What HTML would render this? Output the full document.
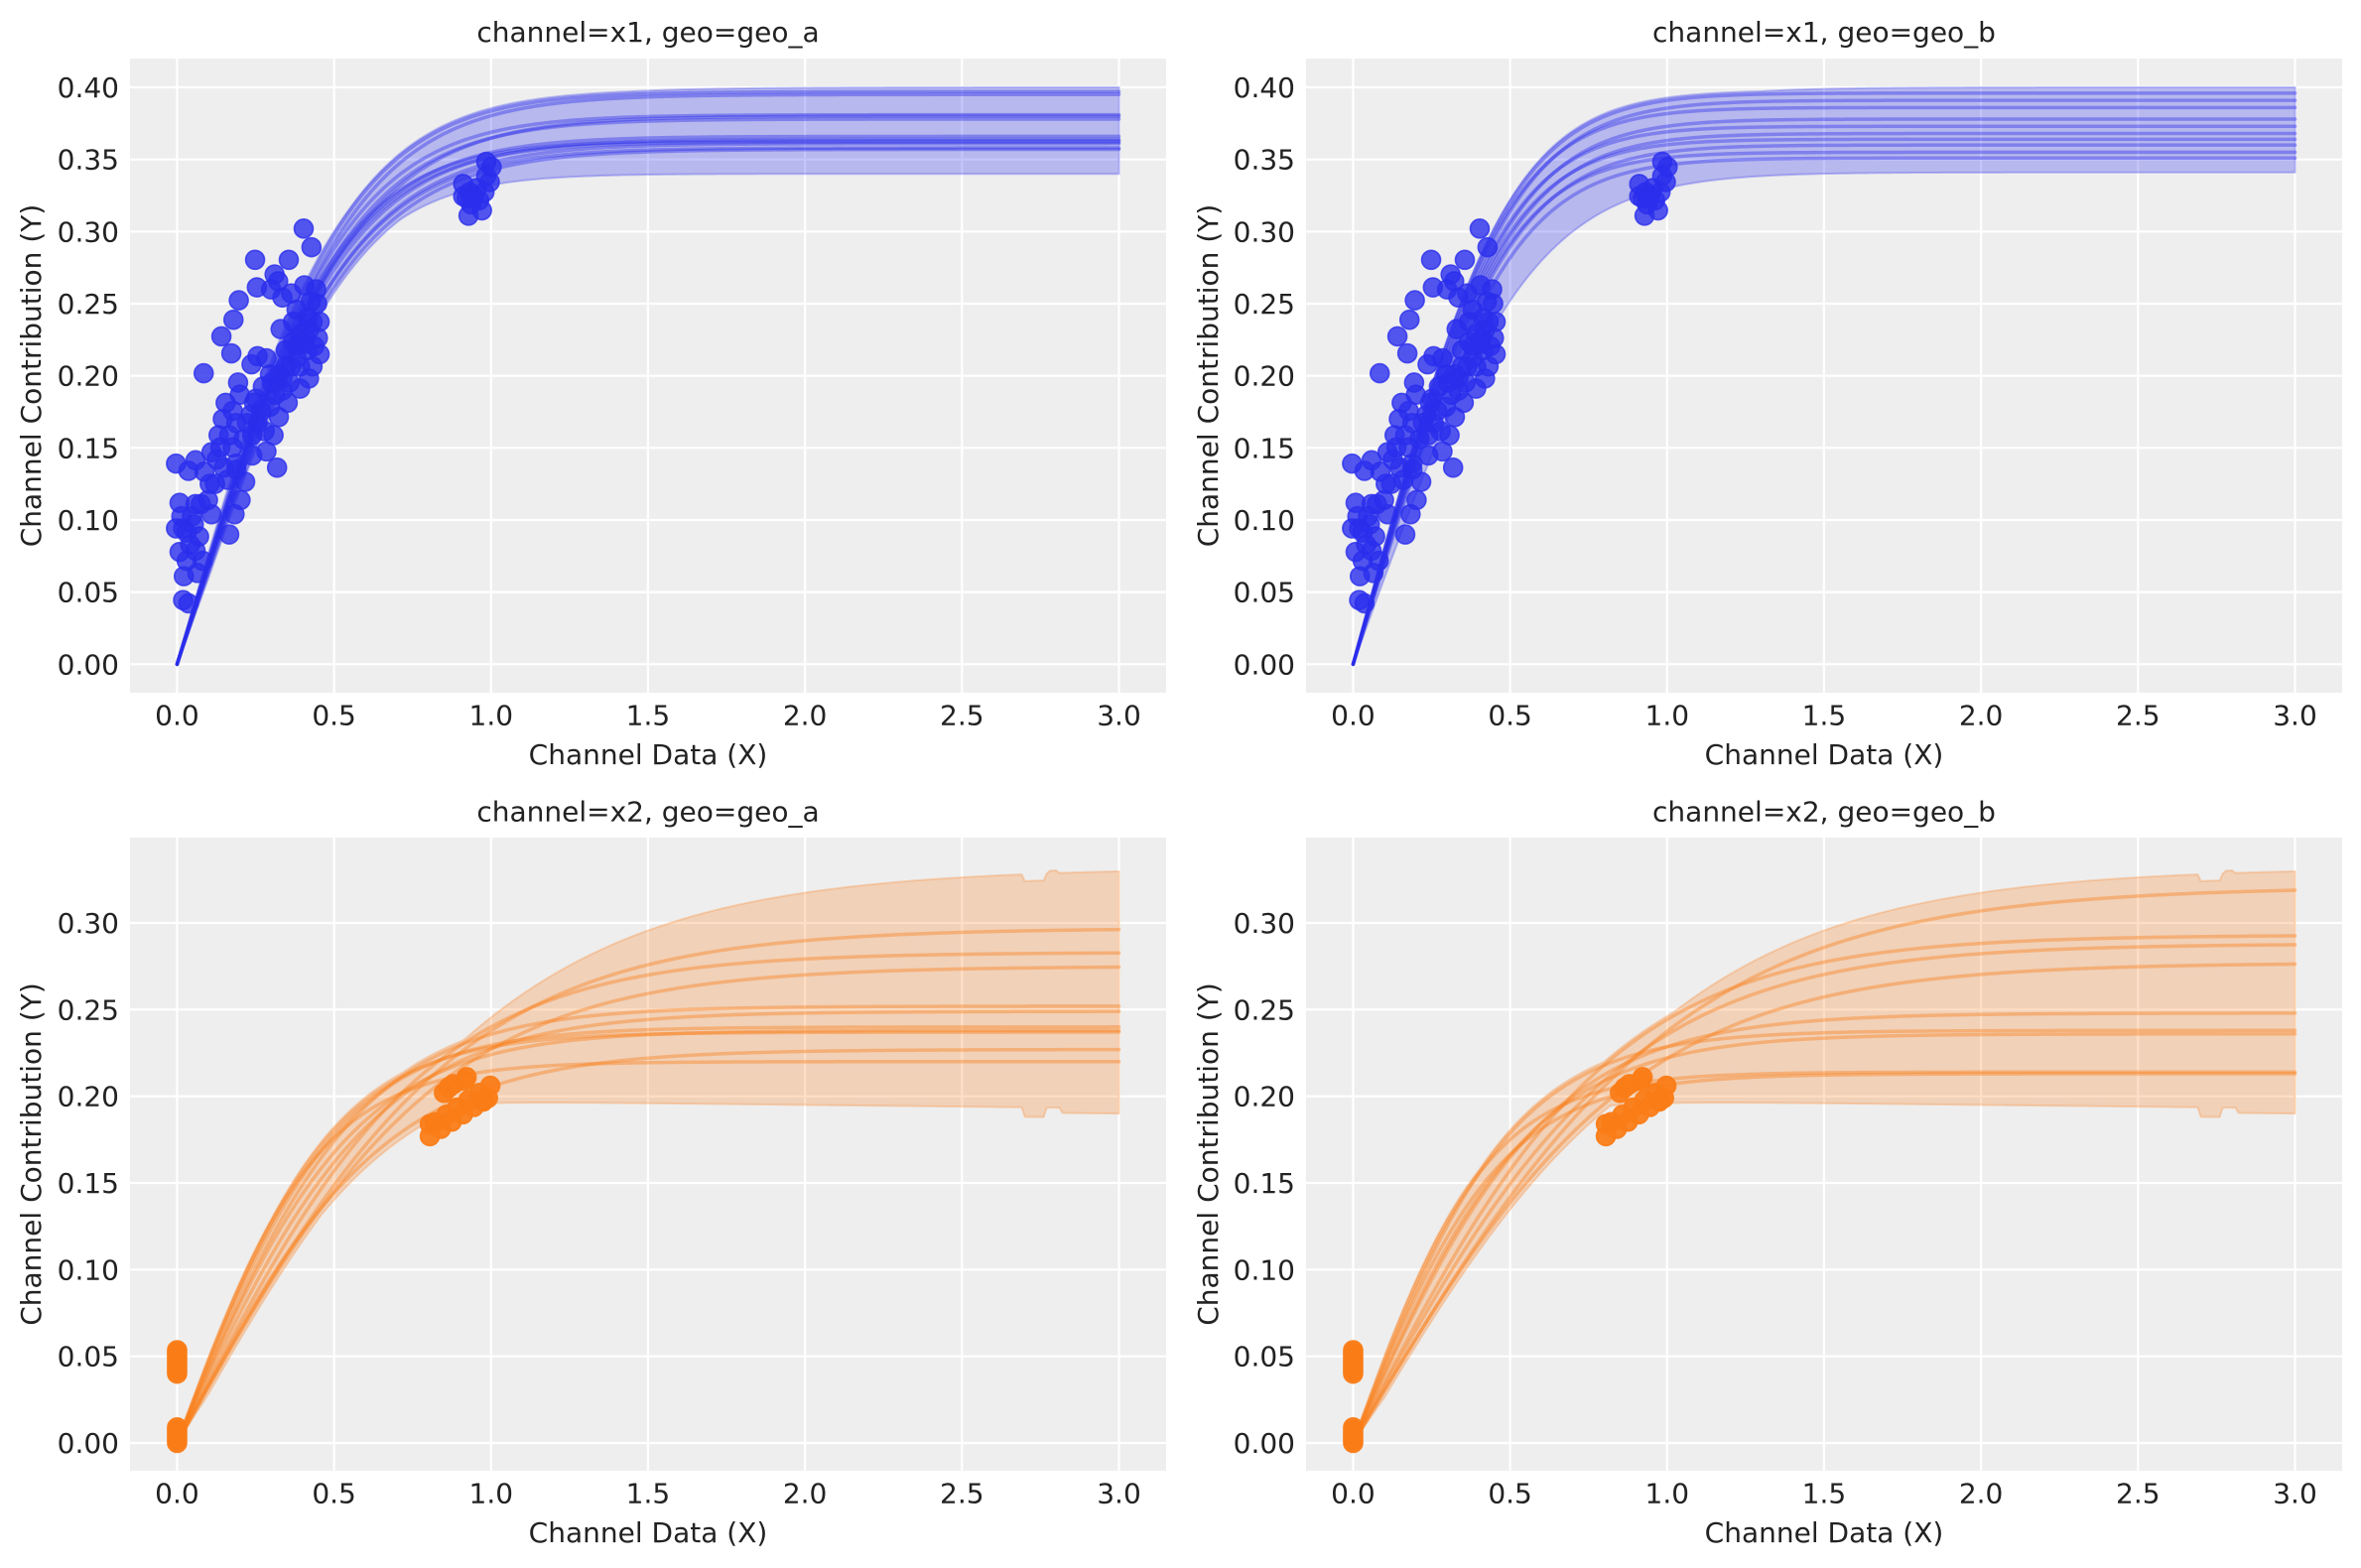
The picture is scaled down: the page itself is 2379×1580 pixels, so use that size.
<!DOCTYPE html>
<html><head><meta charset="utf-8">
<style>
html,body{margin:0;padding:0;background:#fff;}
svg{display:block;}
text{font-family:"DejaVu Sans","Liberation Sans",sans-serif;fill:#222222;font-size:28px;}
</style></head>
<body>
<svg id="c" xmlns="http://www.w3.org/2000/svg" width="2379" height="1580" viewBox="0 0 2379 1580">
<rect width="2379" height="1580" fill="#ffffff"/>
<rect x="131" y="59" width="1044" height="639" fill="#eeeeee"/>
<rect x="1316" y="59" width="1044" height="639" fill="#eeeeee"/>
<rect x="131" y="844" width="1044" height="638" fill="#eeeeee"/>
<rect x="1316" y="844" width="1044" height="638" fill="#eeeeee"/>
<g stroke="#ffffff" stroke-width="2.2" fill="none">
<path d="M178.45 59V698M336.6 59V698M494.8 59V698M652.9 59V698M811.1 59V698M969.3 59V698M1127.5 59V698M131 669.3H1175M131 596.6H1175M131 524H1175M131 451.3H1175M131 378.7H1175M131 306H1175M131 233.4H1175M131 160.7H1175M131 88H1175"/>
<path d="M1363.45 59V698M1521.6 59V698M1679.8 59V698M1837.9 59V698M1996.1 59V698M2154.3 59V698M2312.5 59V698M1316 669.3H2360M1316 596.6H2360M1316 524H2360M1316 451.3H2360M1316 378.7H2360M1316 306H2360M1316 233.4H2360M1316 160.7H2360M1316 88H2360"/>
<path d="M178.45 844V1482M336.6 844V1482M494.8 844V1482M652.9 844V1482M811.1 844V1482M969.3 844V1482M1127.5 844V1482M131 1454H1175M131 1366.7H1175M131 1279.3H1175M131 1192H1175M131 1104.7H1175M131 1017.3H1175M131 930H1175"/>
<path d="M1363.45 844V1482M1521.6 844V1482M1679.8 844V1482M1837.9 844V1482M1996.1 844V1482M2154.3 844V1482M2312.5 844V1482M1316 1454H2360M1316 1366.7H2360M1316 1279.3H2360M1316 1192H2360M1316 1104.7H2360M1316 1017.3H2360M1316 930H2360"/>
</g>
<g id="g0"></g><g id="g1"></g><g id="g2"></g><g id="g3"></g>

<text x="653" y="42" text-anchor="middle">channel=x1, geo=geo_a</text>
<text x="1838" y="42" text-anchor="middle">channel=x1, geo=geo_b</text>
<text x="653" y="827.5" text-anchor="middle">channel=x2, geo=geo_a</text>
<text x="1838" y="827.5" text-anchor="middle">channel=x2, geo=geo_b</text>

<text x="653" y="770" text-anchor="middle">Channel Data (X)</text>
<text x="1838" y="770" text-anchor="middle">Channel Data (X)</text>
<text x="653" y="1554" text-anchor="middle">Channel Data (X)</text>
<text x="1838" y="1554" text-anchor="middle">Channel Data (X)</text>

<text x="41" y="378.5" text-anchor="middle" transform="rotate(-90 41 378.5)">Channel Contribution (Y)</text>
<text x="1227" y="378.5" text-anchor="middle" transform="rotate(-90 1227 378.5)">Channel Contribution (Y)</text>
<text x="41" y="1163" text-anchor="middle" transform="rotate(-90 41 1163)">Channel Contribution (Y)</text>
<text x="1227" y="1163" text-anchor="middle" transform="rotate(-90 1227 1163)">Channel Contribution (Y)</text>

<g text-anchor="middle">
<text x="178.45" y="730.5">0.0</text><text x="336.6" y="730.5">0.5</text><text x="494.8" y="730.5">1.0</text><text x="652.9" y="730.5">1.5</text><text x="811.1" y="730.5">2.0</text><text x="969.3" y="730.5">2.5</text><text x="1127.5" y="730.5">3.0</text>
<text x="1363.45" y="730.5">0.0</text><text x="1521.6" y="730.5">0.5</text><text x="1679.8" y="730.5">1.0</text><text x="1837.9" y="730.5">1.5</text><text x="1996.1" y="730.5">2.0</text><text x="2154.3" y="730.5">2.5</text><text x="2312.5" y="730.5">3.0</text>
<text x="178.45" y="1514.5">0.0</text><text x="336.6" y="1514.5">0.5</text><text x="494.8" y="1514.5">1.0</text><text x="652.9" y="1514.5">1.5</text><text x="811.1" y="1514.5">2.0</text><text x="969.3" y="1514.5">2.5</text><text x="1127.5" y="1514.5">3.0</text>
<text x="1363.45" y="1514.5">0.0</text><text x="1521.6" y="1514.5">0.5</text><text x="1679.8" y="1514.5">1.0</text><text x="1837.9" y="1514.5">1.5</text><text x="1996.1" y="1514.5">2.0</text><text x="2154.3" y="1514.5">2.5</text><text x="2312.5" y="1514.5">3.0</text>
</g>

<g text-anchor="end">
<text x="120" y="679.3">0.00</text><text x="120" y="606.6">0.05</text><text x="120" y="534">0.10</text><text x="120" y="461.3">0.15</text><text x="120" y="388.7">0.20</text><text x="120" y="316">0.25</text><text x="120" y="243.4">0.30</text><text x="120" y="170.7">0.35</text><text x="120" y="98">0.40</text>
<text x="1305" y="679.3">0.00</text><text x="1305" y="606.6">0.05</text><text x="1305" y="534">0.10</text><text x="1305" y="461.3">0.15</text><text x="1305" y="388.7">0.20</text><text x="1305" y="316">0.25</text><text x="1305" y="243.4">0.30</text><text x="1305" y="170.7">0.35</text><text x="1305" y="98">0.40</text>
<text x="120" y="1464">0.00</text><text x="120" y="1376.7">0.05</text><text x="120" y="1289.3">0.10</text><text x="120" y="1202">0.15</text><text x="120" y="1114.7">0.20</text><text x="120" y="1027.3">0.25</text><text x="120" y="940">0.30</text>
<text x="1305" y="1464">0.00</text><text x="1305" y="1376.7">0.05</text><text x="1305" y="1289.3">0.10</text><text x="1305" y="1202">0.15</text><text x="1305" y="1114.7">0.20</text><text x="1305" y="1027.3">0.25</text><text x="1305" y="940">0.30</text>
</g>
</svg>
<script>
(function(){
var NS="http://www.w3.org/2000/svg";
function mk(parent,tag,attrs){var e=document.createElementNS(NS,tag);for(var k in attrs)e.setAttribute(k,attrs[k]);parent.appendChild(e);return e;}
function P(left,top,bottom,ymin,ymax){return {X:function(x){return left+(x+0.15)/3.3*1044;},Y:function(y){return bottom-(y-ymin)/(ymax-ymin)*(bottom-top);}};}
var pan=[P(131,59,698,-0.01975,0.41996),P(1316,59,698,-0.01975,0.41996),P(131,844,1482,-0.01603,0.34924),P(1316,844,1482,-0.01603,0.34924)];
var N=300,xs=[];for(var i=0;i<=N;i++)xs.push(3*i/N);
function gt(t,p){return t<=0?0:Math.pow(Math.tanh(Math.pow(t,p)),1/p);}
function topC(L,s,p){return function(x){return L*gt(s*x/L,p);};}
function botC(L,l){return function(x){return L*Math.tanh(l*x/2);};}
function draw(gid,pi,color,fns,upF,loF,lineOp,bandOp,pts,ptOp){
  var g=document.getElementById(gid),p=pan[pi];
  var ys=fns.map(function(f){return xs.map(f);});
  var up=[],lo=[];
  for(var i=0;i<=N;i++){
    var mx=-1,mn=1;
    for(var j=0;j<ys.length;j++){if(ys[j][i]>mx)mx=ys[j][i];if(ys[j][i]<mn)mn=ys[j][i];}
    var w=Math.min(1,xs[i]*10);
    up.push(Math.max(upF(xs[i]),mx+0.002*w));
    lo.push(Math.min(loF(xs[i]),mn-0.004*w));
  }
  var d="M";
  for(i=0;i<=N;i++){d+=(i?"L":"")+p.X(xs[i]).toFixed(2)+","+p.Y(up[i]).toFixed(2);}
  for(i=N;i>=0;i--){d+="L"+p.X(xs[i]).toFixed(2)+","+p.Y(lo[i]).toFixed(2);}
  d+="Z";
  mk(g,"path",{d:d,fill:color,"fill-opacity":bandOp,stroke:color,"stroke-opacity":bandOp,"stroke-width":2});
  ys.forEach(function(a){
    var s="M";
    for(var i=0;i<=N;i++){s+=(i?"L":"")+p.X(xs[i]).toFixed(2)+","+p.Y(a[i]).toFixed(2);}
    mk(g,"path",{d:s,fill:"none",stroke:color,"stroke-opacity":lineOp,"stroke-width":3.5,"stroke-linejoin":"round","stroke-linecap":"round"});
  });
  pts.forEach(function(q){
    mk(g,"circle",{cx:p.X(q[0]).toFixed(2),cy:p.Y(q[1]).toFixed(2),r:9.5,fill:color,"fill-opacity":ptOp,stroke:color,"stroke-opacity":ptOp,"stroke-width":1.6});
  });
}
var Z=[[490,420],[512,466],[353,497],[448,497],[408,533],[418,550],[358,565],[398,570],[455,580],[307,597],[292,645],[258,686],[286,728],[208,777],[130,1000],[185,992],[165,1018],[140,1097],[150,1160],[140,1218],[152,1278],[150,1337],[165,1345],[280,1175],[415,1010],[230,972],[305,800],[343,755],[360,735],[425,668],[492,560],[525,570],[528,605],[535,650],[530,690],[535,730],[515,760],[505,790],[480,815],[445,850],[420,885],[405,930],[385,970],[345,980],[325,1045],[312,1090],[295,1125],[230,1125],[195,1180],[205,1240],[270,850],[262,890],[250,930],[290,870],[355,840],[360,900],[420,780],[400,800],[440,760],[460,700],[480,680],[500,640],[470,740],[440,720],[385,740],[350,850],[320,940],[300,1000],[275,1040],[240,1050],[220,1090],[180,1150],[170,1200],[190,1270],[210,1020],[265,1010],[300,1015],[175,1130],[160,1170],[185,1215],[200,1100],[255,960],[290,960],[330,900],[370,870],[395,780],[410,830],[450,800],[470,620],[510,600],[495,690],[520,710],[480,760],[430,820],[380,920],[345,930],[310,830],[430,590],[500,720],[460,650],[505,670],[515,650],[490,705],[470,710],[455,760],[430,790],[375,810],[395,860],[340,880],[300,900],[280,930],[245,990],[225,1050],[185,1100],[160,1240],[130,1160],[145,1130],[1005,255],[1020,268],[1015,305],[940,310],[958,330],[940,340],[1000,330],[985,350],[993,375],[955,388],[962,360],[978,320],[1005,290],[950,345],[970,340]];
var BP=Z.map(function(z){return [(131+z[0]/2.8-178.5)/316.3,(610.3-z[1]/2.45)/1453];});
var OP=[];
[0.040,0.0415,0.043,0.0445,0.046,0.0475,0.049,0.0505,0.052,0.0535].forEach(function(y){OP.push([0,y]);});
[0.0,0.0015,0.003,0.0045,0.006,0.0075,0.009].forEach(function(y){OP.push([0,y]);});
for(var k=0;k<12;k++){var x=0.805+k*0.0175;OP.push([x,0.177+(x-0.805)*0.12+(k%2?0.006:0)]);}
OP.push([0.805,0.184]);OP.push([0.85,0.202]);OP.push([0.865,0.205]);OP.push([0.88,0.207]);OP.push([0.915,0.209]);OP.push([0.922,0.211]);OP.push([0.99,0.199]);OP.push([0.975,0.197]);
var BL="#2a2eec",OR="#fa7c17";
draw("g0",0,BL,[[0.397,0.74],[0.395,0.72],[0.381,0.72],[0.378,0.70],[0.366,0.70],[0.364,0.68],[0.362,0.70],[0.361,0.66],[0.358,0.66],[0.357,0.64],[0.363,0.72],[0.380,0.68]].map(function(a){return topC(a[0],a[1],1.1);}),
  function(x){return 0.400*Math.tanh(1.95*x);},function(x){return 0.34*gt(1.882*x,1.2);},0.4,0.28,BP,0.8);
draw("g1",1,BL,[[0.396,0.80],[0.391,0.78],[0.386,0.80],[0.378,0.76],[0.373,0.78],[0.368,0.74],[0.364,0.76],[0.360,0.72],[0.355,0.74],[0.351,0.70]].map(function(a){return topC(a[0],a[1],1.25);}),
  function(x){return 0.400*gt(1.95*x,1.1);},function(x){return 0.341*gt(1.76*x,1.2);},0.4,0.28,BP,0.8);
function oUp(x){var v=0.332*Math.tanh(0.95*x);if(x>=2.70&&x<=2.76)v-=0.004;else if(x>2.77&&x<=2.80)v+=0.0015;return v;}
function oLo(x){var v=(0.199-0.002*x)*Math.tanh(3*x);if(x>=2.70&&x<=2.76)v-=0.0055;else if(x>2.81)v-=0.003;return v;}
draw("g2",2,OR,[[0.297,2.2],[0.283,2.5],[0.275,2.35],[0.252,3.4],[0.249,3.1],[0.240,3.8],[0.238,3.5],[0.237,4.0],[0.227,3.0],[0.220,4.4]].map(function(a){return botC(a[0],a[1]);}),
  oUp,oLo,0.4,0.25,OP,0.95);
draw("g3",3,OR,[[0.321,1.9],[0.293,2.4],[0.288,2.3],[0.277,2.2],[0.248,3.2],[0.238,3.9],[0.236,3.5],[0.214,4.6],[0.213,4.2]].map(function(a){return botC(a[0],a[1]);}),
  oUp,oLo,0.4,0.25,OP,0.95);
})();
</script>
</body></html>
